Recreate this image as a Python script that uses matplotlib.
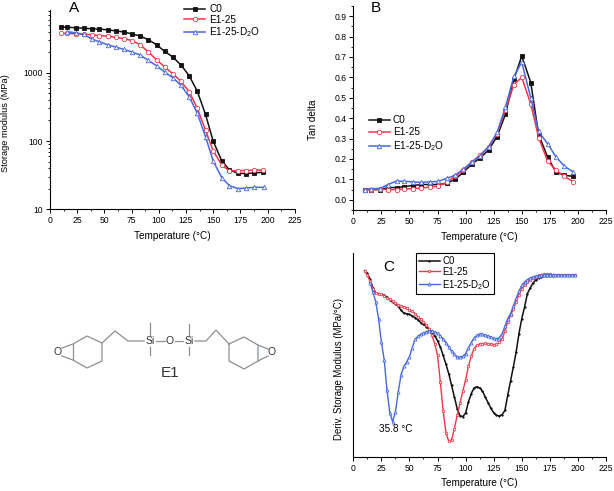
import numpy as np
import matplotlib
matplotlib.use('Agg')
import matplotlib.pyplot as plt
from matplotlib.ticker import MultipleLocator, NullLocator

plt.rcParams['font.family'] = ['Liberation Sans', 'DejaVu Sans']
plt.rcParams['mathtext.default'] = 'regular'
plt.rcParams['font.size'] = 6.5

BLACK = '#111111'
RED = '#f2364a'
BLUE = '#4668e0'
LABELS = ['C0', 'E1-25', 'E1-25-D$_2$O']

# Panel A, storage modulus
temp_a = [10, 16, 23.5, 31, 38.5, 45.5, 53, 60.5, 68, 75.5, 83, 90.5, 98, 105.5, 113, 120.5,
          128, 135.5, 143, 150, 158, 165, 173, 180.5, 188, 196]
temp_a_d2o = [16, 23.5, 31, 38.5, 45.5, 53, 60.5, 68, 75.5, 83, 90.5, 98, 105.5, 113, 120.5,
              128, 135.5, 143, 150, 158, 165, 173, 180.5, 188, 197]
mod_c0 = [4650, 4650, 4550, 4500, 4400, 4350, 4250, 4100, 3950, 3700, 3450, 3040, 2570, 2050, 1695, 1295,
          904, 533, 245, 100, 51, 37.7, 33.6, 33.4, 34, 35]
mod_e1 = [3800, 3760, 3720, 3670, 3600, 3500, 3440, 3300, 3160, 2960, 2570, 2010, 1550, 1210, 967, 747,
          527, 300, 145, 72, 44.5, 36.4, 37, 37, 37.5, 37.5]
mod_d2o = [3980, 3860, 3640, 3110, 2840, 2570, 2375, 2195, 2010, 1815, 1515, 1265, 1023, 845, 653,
           445, 254, 116, 51, 29, 22.2, 20, 20.5, 21, 21]

# Panel B, tan delta
temp_b = [10, 16, 23.5, 31, 38.5, 45.5, 53, 60.5, 68, 75.5, 83, 90.5, 98, 105.5, 113, 120.5,
          128, 135.5, 143, 150, 158, 165, 173, 180.5, 188, 196]
tan_c0 = [.05, .05, .05, .06, .06, .065, .07, .075, .075, .075, .08, .10, .135, .175, .205, .245,
          .31, .42, .59, .705, .575, .32, .21, .135, .12, .115]
tan_e1 = [.05, .05, .052, .05, .05, .053, .055, .058, .062, .067, .085, .115, .145, .185, .22, .26,
          .325, .44, .565, .60, .47, .305, .19, .145, .115, .088]
tan_d2o = [.05, .055, .055, .075, .092, .09, .088, .085, .088, .09, .105, .12, .15, .185, .215, .26,
           .33, .455, .605, .675, .50, .335, .275, .21, .165, .135]

# Panel C, derivative (no y scale in the figure, arbitrary units), read every 2.5 degrees
temp_c = np.arange(10, 198, 2.5)
temp_c_d2o = np.arange(15, 198, 2.5)
der_c0 = [559, 551, 533, 507, 492, 490, 489, 485, 480, 471, 464, 460, 452, 440, 432, 430, 428, 423, 418, 412,
          403, 398, 391, 383, 373, 363, 349, 330, 305, 278, 250, 215, 180, 145, 124, 121, 132, 165, 190, 207,
          211, 207, 198, 180, 163, 146, 133, 125, 123, 127, 140, 185, 228, 270, 315, 370, 415, 450, 490, 507,
          522, 531, 537, 540, 542, 543, 544, 544, 545, 545, 545, 545, 545, 545, 545, 545]
der_e1 = [558, 545, 527, 503, 491, 490, 489, 483, 477, 473, 467, 462, 457, 453, 450, 446, 441, 437, 430, 421,
          413, 405, 397, 385, 365, 340, 305, 225, 138, 73, 47, 52, 85, 125, 162, 197, 232, 272, 302, 325,
          335, 339, 340, 341, 340, 338, 337, 338, 344, 354, 378, 405, 425, 443, 466, 487, 505, 516, 526, 532,
          537, 541, 545, 547, 548, 548, 548, 547, 546, 546, 546, 545, 545, 545, 545, 545]
der_d2o = [522, 495, 465, 415, 345, 292, 200, 133, 106, 135, 195, 246, 272, 285, 301, 328, 353, 362,
           368, 372, 376, 379, 379, 375, 371, 364, 354, 343, 330, 317, 308, 301, 299, 302, 310, 327, 343, 357,
           365, 369, 368, 366, 363, 360, 356, 354, 358, 370, 392, 415, 430, 452, 476, 497, 515, 525, 532, 537,
           540, 543, 544, 545, 546, 546, 546, 546, 546, 546, 545, 545, 545, 545, 545, 545]

W, H = 614, 491
fig = plt.figure(figsize=(W / 100, H / 100), dpi=100)


def make_axes(left, right, top, bottom):
    ax = fig.add_axes([left / W, 1 - bottom / H, (right - left) / W, (bottom - top) / H])
    ax.spines['top'].set_visible(False)
    ax.spines['right'].set_visible(False)
    ax.spines['left'].set_linewidth(0.8)
    ax.spines['bottom'].set_linewidth(0.8)
    ax.set_xlim(0, 225)
    ax.xaxis.set_major_locator(MultipleLocator(25))
    ax.xaxis.set_minor_locator(MultipleLocator(12.5))
    ax.tick_params(which='major', length=3, width=0.7, pad=2, labelsize=6.2)
    ax.tick_params(which='minor', length=1.7, width=0.6)
    ax.set_xlabel('Temperature (°C)', fontsize=7.2, labelpad=4)
    return ax


def draw(ax, x, y, color, marker, ms=3.2, lw=1.1, label=None):
    face = color if marker in ('s', '.') else 'white'
    ax.plot(x, y, color=color, lw=lw, marker=marker, ms=ms, mfc=face, mec=color, mew=0.6, label=label)


# A
ax_a = make_axes(50, 294.7, 10, 209.3)
ax_a.set_yscale('log')
ax_a.set_ylim(10, 8300)
ax_a.set_yticks([10, 100, 1000])
ax_a.set_yticklabels(['10', '100', '1000'])
ax_a.set_ylabel('Storage modulus (MPa)', fontsize=6.7)
ax_a.yaxis.set_label_coords((10 - 50) / 244.7, (209.3 - 123) / 199.3)
draw(ax_a, temp_a, mod_c0, BLACK, 's', label=LABELS[0])
draw(ax_a, temp_a, mod_e1, RED, 'o', label=LABELS[1])
draw(ax_a, temp_a_d2o, mod_d2o, BLUE, '^', label=LABELS[2])
ax_a.legend(frameon=False, loc='upper left', bbox_to_anchor=(0.548, 1.03), fontsize=7.2,
            handlelength=2.1, handletextpad=0.4, labelspacing=0.05, borderpad=0, borderaxespad=0)
fig.text(74 / W, 1 - 12 / H, 'A', fontsize=11, ha='center', va='baseline')

# B
ax_b = make_axes(353.3, 606, 6, 210)
ax_b.set_ylim(-0.05, 0.95)
ax_b.yaxis.set_major_locator(MultipleLocator(0.1))
ax_b.yaxis.set_minor_locator(MultipleLocator(0.05))
ax_b.set_ylabel('Tan delta', fontsize=7.2)
ax_b.yaxis.set_label_coords((318 - 353.3) / 252.7, (210 - 120) / 204)
draw(ax_b, temp_b, tan_c0, BLACK, 's', label=LABELS[0])
draw(ax_b, temp_b, tan_e1, RED, 'o', label=LABELS[1])
draw(ax_b, temp_b, tan_d2o, BLUE, '^', label=LABELS[2])
ax_b.legend(frameon=False, loc='upper left', bbox_to_anchor=(0.062, 0.465), fontsize=7.2,
            handlelength=2.1, handletextpad=0.3, labelspacing=0.2, borderpad=0, borderaxespad=0)
fig.text(376 / W, 1 - 12 / H, 'B', fontsize=11, ha='center', va='baseline')

# C
ax_c = make_axes(353.3, 606, 253, 457)
ax_c.set_ylim(0, 612)
ax_c.yaxis.set_major_locator(NullLocator())
ax_c.set_ylabel('Deriv. Storage Modulus (MPa/°C)', fontsize=6.9)
ax_c.yaxis.set_label_coords((344 - 353.3) / 252.7, (457 - 369) / 204)
draw(ax_c, temp_c, der_c0, BLACK, '.', ms=2, lw=1.1, label=LABELS[0])
draw(ax_c, temp_c, der_e1, RED, 'o', ms=1.8, lw=1, label=LABELS[1])
draw(ax_c, temp_c_d2o, der_d2o, BLUE, '^', ms=2.2, lw=1, label=LABELS[2])
leg = ax_c.legend(loc='upper left', bbox_to_anchor=(0.248, 1.0), fontsize=6.9, fancybox=False, framealpha=1,
                  edgecolor='black', handlelength=2.2, handletextpad=0.25, labelspacing=0.1,
                  borderpad=0.3, borderaxespad=0)
leg.get_frame().set_linewidth(0.8)
ax_c.text(37.5, 83, '35.8 °C', fontsize=7.2, ha='center', va='center')
fig.text(389 / W, 1 - 271 / H, 'C', fontsize=11, ha='center', va='baseline')

# E1 structure drawn in pixel coordinates of the figure
ax_s = fig.add_axes([0, 0, 1, 1])
ax_s.set_xlim(0, W)
ax_s.set_ylim(H, 0)
ax_s.axis('off')
ax_s.patch.set_alpha(0)
bonds = [
    [(62, 348), (73, 344), (87, 336), (102, 343), (102, 361), (87, 368), (73, 360), (62, 356)],
    [(73, 344), (73, 360)],
    [(102, 343), (115, 331), (128, 341), (144, 341)],
    [(150, 323), (150, 335)],
    [(150, 347), (150, 355)],
    [(156, 341), (165, 341)],
    [(175, 341), (183, 341)],
    [(189, 324), (189, 335)],
    [(189, 347), (189, 355)],
    [(195, 341), (206, 341), (216, 330), (229, 344), (244, 337), (258, 345), (258, 361), (244, 369),
     (229, 361), (229, 344)],
    [(258, 345), (268, 349)],
    [(258, 361), (268, 356)],
]
for bond in bonds:
    ax_s.plot([p[0] for p in bond], [p[1] for p in bond], color='#8a9094', lw=0.9)
atoms = [(58, 352, 'O'), (150, 341, 'Si'), (169.5, 341, 'O'), (189, 341, 'Si'), (272, 352, 'O')]
for atom_x, atom_y, name in atoms:
    ax_s.text(atom_x, atom_y, name, fontsize=7.5, ha='center', va='center', color='#333333')
ax_s.text(170, 373, 'E1', fontsize=11, ha='center', va='center', color='#333333')

fig.savefig('out.png', dpi=100)
